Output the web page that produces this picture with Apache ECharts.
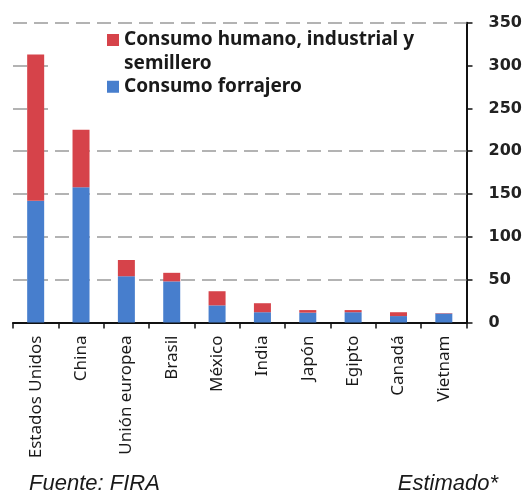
<!DOCTYPE html>
<html>
<head>
<meta charset="utf-8">
<script src="https://cdn.jsdelivr.net/npm/echarts@6/dist/echarts.min.js"></script>
<style>
html,body{margin:0;padding:0;background:#fff;}
#chart{width:529px;height:493px;}
</style>
</head>
<body>
<div id="chart"></div>
<script>
const categories = ['Estados Unidos','China','Unión europea','Brasil','México','India','Japón','Egipto','Canadá','Vietnam'];
const forrajero = [142, 158, 54, 48, 20, 12, 11.5, 12, 7.5, 10.5];
const humano = [171, 67, 19, 10, 16.5, 10.5, 3, 2.5, 4.5, 0.5];
const yTicks = [0, 50, 100, 150, 200, 250, 300, 350];
const hiddenByLegend = [250, 300];
const nameHumano = 'Consumo humano, industrial y\nsemillero';
const nameForrajero = 'Consumo forrajero';
const sourceText = 'Fuente: FIRA';
const noteText = 'Estimado*';

const RED = '#d6434a';
const BLUE = '#477ecd';
const LEGEND_LEFT = 54;

// legend icons: a 12px square inside a 12x48 box (top for the two-line entry, middle for the one-line entry)
const ICON_TOP = 'path://M0,0L0.01,0M0,6L12,6L12,18L0,18ZM0,48L0.01,48';
const ICON_MID = 'path://M0,0L0.01,0M0,18L12,18L12,30L0,30ZM0,48L0.01,48';

const legendText = {fontFamily: 'Noto Sans', fontWeight: 'bold', fontSize: 19, color: '#1a1a1a', lineHeight: 24};

function gridLines(extra) {
  const full = yTicks.filter(function (v) { return v > 0 && hiddenByLegend.indexOf(v) < 0; })
    .map(function (v) { return {yAxis: v}; });
  return {
    silent: true,
    z: 1,
    symbol: ['none', 'none'],
    label: {show: false},
    lineStyle: {color: '#9a9a9a', width: 1.5, type: [14, 7]},
    emphasis: {disabled: true},
    data: full.concat(extra)
  };
}

const chart = echarts.init(document.getElementById('chart'), null, {renderer:'canvas'});
chart.setOption({
  animation: false,
  backgroundColor: '#fff',
  grid: {left: 13, right: 62.5, top: 22.7, bottom: 170.5, containLabel: false},
  legend: {
    z: 50,
    orient: 'vertical',
    left: LEGEND_LEFT,
    top: 28,
    padding: [0, 49, 9, 53],
    backgroundColor: '#fff',
    itemGap: -13.3,
    itemWidth: 12,
    itemHeight: 48,
    symbolKeepAspect: true,
    selectedMode: false,
    data: [
      {name: nameHumano, icon: ICON_TOP},
      {name: nameForrajero, icon: ICON_MID}
    ],
    textStyle: legendText
  },
  xAxis: {
    type: 'category',
    data: categories,
    axisLine: {lineStyle: {color: '#111', width: 2}},
    axisTick: {show: true, length: 6, lineStyle: {color: '#111', width: 1.5}},
    axisLabel: {rotate: 90, margin: 13, fontFamily: 'Noto Sans', fontSize: 17, color: '#1a1a1a', interval: 0}
  },
  yAxis: {
    type: 'value',
    position: 'right',
    min: 0, max: 350, interval: 50,
    axisLine: {show: true, lineStyle: {color: '#111', width: 2}},
    axisTick: {show: true, length: 6, lineStyle: {color: '#111', width: 1.5}},
    axisLabel: {margin: 22, fontFamily: 'DejaVu Sans', fontWeight: 'bold', fontSize: 16, color: '#222',
      formatter: function (v) { return yTicks.indexOf(v) >= 0 ? String(v) : ''; }},
    splitLine: {show: false}
  },
  graphic: [
    {type: 'text', left: 29, top: 473, style: {text: sourceText, font: 'italic 22px "Liberation Sans"', fill: '#1a1a1a'}},
    {type: 'text', right: 31, top: 473, style: {text: noteText, font: 'italic 22px "Liberation Sans"', fill: '#1a1a1a'}}
  ],
  series: [
    {name: nameForrajero, type: 'bar', stack: 'total', z: 10, data: forrajero, barWidth: 17, itemStyle: {color: BLUE}, markLine: gridLines([])},
    {name: nameHumano, type: 'bar', stack: 'total', z: 10, data: humano, barWidth: 17, itemStyle: {color: RED}}
  ]
});

// gridlines that run behind the legend box only show left of it
const c0 = chart.convertToPixel({xAxisIndex: 0}, categories[0]);
const c1 = chart.convertToPixel({xAxisIndex: 0}, categories[1]);
const plotLeft = c0 - (c1 - c0) / 2;
const segments = hiddenByLegend.map(function (v) {
  const py = chart.convertToPixel({yAxisIndex: 0}, v);
  return [{x: plotLeft, y: py}, {x: LEGEND_LEFT, y: py}];
});
chart.setOption({series: [{markLine: gridLines(segments)}, {}]});
</script>
</body>
</html>
